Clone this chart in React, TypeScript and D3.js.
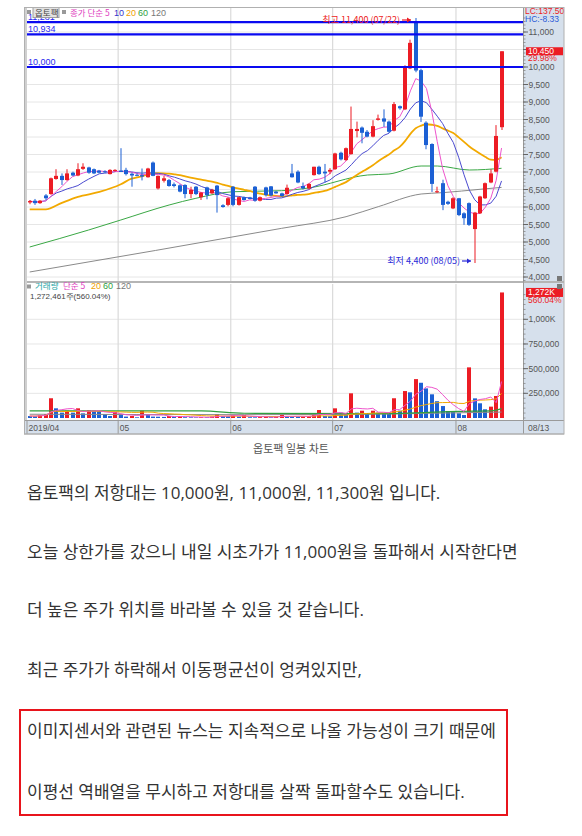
import React from 'react';
import * as d3 from 'd3';

// ---- data ----
const opens = [6130,6180,6110,6330,6370,6800,6890,6770,6980,6900,
7090,7130,7080,7040,7020,6940,7030,7040,7060,6950,
6920,6910,6850,7270,6530,6750,6770,6650,6620,6630,
6370,6580,6280,6560,6390,6610,6050,6060,6580,6060,
6280,6270,6580,6180,6560,6590,6440,6390,6370,6960,
7010,6600,6530,6910,7150,7010,7010,7080,7550,7340,
7510,8170,8270,8150,8010,8490,8530,8440,8180,8880,
8790,9960,11300,9910,8410,7800,6430,6680,6150,5960,
6250,5820,6110,5370,5820,6250,6700,7010,8280];
const highs = [6200,6230,6200,6370,6840,7080,6960,7080,7010,7250,
7250,7150,7100,7060,7050,7080,7080,7680,7120,6990,
6960,7100,7120,7300,6900,6890,6800,6700,6650,6650,
6580,6600,6430,6580,6520,6630,6080,6280,6600,6300,
6300,6290,6600,6300,6580,6600,6460,6410,6640,7230,
7050,6700,6680,7150,7180,7230,7110,7550,7580,7700,
8870,8440,8300,8200,8480,8640,8790,8470,9000,8900,
10050,10780,11400,9950,8450,7820,6580,6780,6180,6280,
6260,5850,6130,5860,6320,6700,7080,8340,10450];
const lows = [6080,6060,6090,6200,6350,6780,6630,6750,6880,6880,
7060,6950,6940,6960,6970,6930,7010,7000,6900,6580,
6880,6760,6840,6880,6500,6700,6580,6560,6420,6250,
6250,6340,6200,6220,6370,5840,5980,6020,6020,6040,
6180,6220,6150,6160,6300,6300,6380,6290,6350,6840,
6680,6500,6500,6900,6920,6700,6940,7060,7330,7320,
7500,7990,7820,7990,7990,8470,8290,8120,8160,8780,
8770,9940,9850,8430,7650,6430,6400,5910,6060,5940,
5740,5490,5460,4400,5800,6230,6680,6990,8200];
const closes = [6170,6110,6180,6250,6820,6890,6770,6960,6900,7080,
7150,6980,6960,6980,7000,7060,7060,7000,6940,6900,
6900,6870,7100,6890,6890,6820,6600,6600,6440,6370,
6490,6370,6410,6340,6490,6340,6000,6250,6060,6280,
6200,6230,6180,6280,6340,6330,6390,6310,6550,6850,
6700,6530,6660,7150,6940,6960,7060,7530,7360,7680,
8230,8230,8120,8010,8310,8530,8440,8150,8940,8820,
9990,10690,9900,8580,7770,6660,6450,6060,6090,6250,
5770,5680,5490,5840,6300,6680,6960,8030,10450];
// volume, thousand shares
const volumes = [20,18,30,40,200,98,54,74,54,98,
47,81,74,70,40,20,61,30,14,20,
7,74,40,14,13,11,20,12,20,8,
7,6,8,7,14,40,20,18,26,14,
30,8,7,9,13,8,13,30,20,14,
12,14,20,47,81,20,18,98,54,40,
250,54,74,40,74,54,50,45,200,74,
273,260,394,357,300,240,170,121,71,68,
48,30,513,199,149,88,115,223,1272];

const monthLabels = ['2019/04', '05', '06', '07', '08'];
const monthStartIdx = [0, 17, 38, 57, 80];
const lastDateLabel = '08/13';

const priceTicks = [4000,4500,5000,5500,6000,6500,7000,7500,8000,8500,9000,9500,10000,10500,11000];
const priceTickLabels = ['4,000','4,500','5,000','5,500','6,000','6,500','7,000','7,500','8,000','8,500','9,000','9,500','10,000','','11,000'];
const volTicks = [250, 500, 750, 1000];
const volTickLabels = ['250,000', '500,000', '750,000', '1,000K'];

const resistLevels = [11281, 10934, 10000];
const resistLabels = ['11,281', '10,934', '10,000'];

const ma20EarlyIdx = [0, 3, 6, 9, 13, 17];
const ma20EarlyVal = [5934, 5934, 6120, 6290, 6430, 6650];
const ma60Idx = [0, 11, 17, 26, 31, 38, 47, 52, 63, 67, 73, 76, 82, 88];
const ma60Val = [4857, 5343, 5629, 6057, 6249, 6437, 6466, 6543, 6914, 6943, 7171, 7171, 7057, 7106];
const ma120Idx = [0, 47, 59, 65, 73, 77, 84, 88];
const ma120Val = [4143, 5391, 5723, 6009, 6371, 6409, 6506, 6560];
const vma60Idx = [0, 32, 40, 66, 72, 80, 86, 88];
const vma60Val = [72, 72, 48, 44, 52, 68, 72, 95];
const vma120Idx = [0, 40, 60, 75, 88];
const vma120Val = [38, 34, 36, 48, 60];

const bodyLines = [
  '옵토팩의 저항대는 10,000원, 11,000원, 11,300원 입니다.',
  '오늘 상한가를 갔으니 내일 시초가가 11,000원을 돌파해서 시작한다면',
  '더 높은 주가 위치를 바라볼 수 있을 것 같습니다.',
  '최근 주가가 하락해서 이동평균선이 엉켜있지만,',
  '이미지센서와 관련된 뉴스는 지속적으로 나올 가능성이 크기 때문에',
  '이평선 역배열을 무시하고 저항대를 살짝 돌파할수도 있습니다.',
];

const RED = '#ec1c24';
const BLUE = '#1c60d4';
const AXISBG = '#d6e0ec';
const FONT = '"Noto Sans CJK KR", "Noto Sans", sans-serif';
const BODYFONT = '"Open Sans", "Noto Sans CJK KR", sans-serif';
const NUMFONT = '"Liberation Sans", Arial, sans-serif';

function sma(arr: number[], n: number): number[] {
  return arr.map((_, i) => d3.mean(arr.slice(Math.max(0, i - n + 1), i + 1)) as number);
}

export default function App() {
  const W = 582, H = 836;
  const plotL = 27, plotR = 523, frameR = 564;
  const x = d3.scaleLinear().domain([-0.5, 92]).range([plotL, plotR]);
  const yP = d3.scaleLinear().domain([4000, 10000]).range([277, 67]);
  const yV = d3.scaleLinear().domain([0, 1000]).range([418, 319.3]);
  const n = closes.length;
  const idx = d3.range(n);

  const ma5 = sma(closes, 5);
  const ma10 = sma(closes, 10);
  const ma20full = sma(closes, 20);
  const ma20Pts: [number, number][] = [
    ...ma20EarlyIdx.map((i, k) => [i, ma20EarlyVal[k]] as [number, number]),
    ...idx.filter((i) => i >= 19).map((i) => [i, ma20full[i]] as [number, number]),
  ];
  const vma5 = sma(volumes, 5);
  const vma20 = sma(volumes, 20);

  const lineP = d3.line<[number, number]>().x((d) => x(d[0])).y((d) => yP(d[1]));
  const lineSmooth = d3.line<[number, number]>().x((d) => x(d[0])).y((d) => yP(d[1])).curve(d3.curveMonotoneX);
  const lineV = d3.line<[number, number]>().x((d) => x(d[0])).y((d) => yV(d[1]));
  const lineVSmooth = d3.line<[number, number]>().x((d) => x(d[0])).y((d) => yV(d[1])).curve(d3.curveMonotoneX);

  const pairs = (a: number[]) => a.map((v, i) => [i, v] as [number, number]);
  const zip = (a: number[], b: number[]) => a.map((v, i) => [v, b[i]] as [number, number]);

  const minorPrice = d3.range(3900, 11500, 100);
  const minorVol = d3.range(0, 1300, 50);

  const lastClose = closes[n - 1];
  const lastVol = volumes[n - 1];

  return (
    <div style={{ position: 'absolute', left: 0, top: 0 }}>
      <svg width={W} height={H} style={{ display: 'block', background: '#fff' }}>
        {/* chart frame backgrounds */}
        <rect x={24} y={7} width={frameR - 24} height={427} fill="#fff" />
        <rect x={plotR} y={7} width={frameR - plotR} height={413} fill={AXISBG} />
        <rect x={24} y={420} width={frameR - 24} height={14} fill={AXISBG} />

        {/* gridlines */}
        {priceTicks.map((t) => (
          <line key={'pg' + t} x1={plotL} x2={plotR} y1={yP(t)} y2={yP(t)} stroke="#e6e6e6" strokeWidth={1} />
        ))}
        {volTicks.map((t) => (
          <line key={'vg' + t} x1={plotL} x2={plotR} y1={yV(t)} y2={yV(t)} stroke="#e6e6e6" strokeWidth={1} />
        ))}
        {monthStartIdx.slice(1).map((m) => (
          <g key={'mg' + m}>
            <line x1={x(m - 0.5)} x2={x(m - 0.5)} y1={8} y2={281} stroke="#dadada" strokeWidth={1.2} />
            <line x1={x(m - 0.5)} x2={x(m - 0.5)} y1={284} y2={420} stroke="#dadada" strokeWidth={1.2} />
          </g>
        ))}

        {/* moving averages (price) */}
        <path d={lineSmooth(zip(ma120Idx, ma120Val)) || ''} fill="none" stroke="#8a8a8a" strokeWidth={1} />
        <path d={lineSmooth(zip(ma60Idx, ma60Val)) || ''} fill="none" stroke="#3aa845" strokeWidth={1} />
        <path d={lineSmooth(ma20Pts) || ''} fill="none" stroke="#f2a900" strokeWidth={1.8} />
        <path d={lineP(pairs(ma10)) || ''} fill="none" stroke="#4a4ad0" strokeWidth={1} />
        <path d={lineP(pairs(ma5)) || ''} fill="none" stroke="#ee55cc" strokeWidth={1} />

        {/* candles */}
        {idx.map((i) => {
          const up = closes[i] >= opens[i];
          const c = up ? RED : BLUE;
          const L = Math.round(x(i)) - 2;
          const top = yP(Math.max(opens[i], closes[i]));
          const bot = yP(Math.min(opens[i], closes[i]));
          return (
            <g key={'c' + i}>
              <rect x={L + 1.5} width={1} y={yP(highs[i])} height={yP(lows[i]) - yP(highs[i])} fill={c} />
              <rect x={L} width={4} y={top} height={Math.max(1, bot - top)} fill={c} />
            </g>
          );
        })}

        {/* resistance lines */}
        {resistLevels.map((r, k) => (
          <g key={'r' + k}>
            <line x1={plotL} x2={plotR} y1={yP(r)} y2={yP(r)} stroke="#0a0af0" strokeWidth={2.2} />
            <text x={28} y={yP(r) - 2.5} fontSize={9} fontFamily={NUMFONT} fill="#2a2af0">{resistLabels[k]}</text>
          </g>
        ))}

        {/* high / low annotations */}
        <text x={400} y={23} textAnchor="end" fontSize={9} fontFamily={FONT} fill={RED}>최고 11,400 (07/22)</text>
        <line x1={402} x2={411} y1={20} y2={20} stroke={RED} strokeWidth={1.2} />
        <path d="M411,20 L407,17.5 L407,22.5 Z" fill={RED} />
        <text x={460} y={264} textAnchor="end" fontSize={9} fontFamily={FONT} fill="#2a2ad8">최저 4,400 (08/05)</text>
        <line x1={462} x2={471} y1={261} y2={261} stroke="#2a2ad8" strokeWidth={1.2} />
        <path d="M471,261 L467,258.5 L467,263.5 Z" fill="#2a2ad8" />

        {/* price legend */}
        <rect x={27} y={10} width={4} height={4} fill="#999" />
        <rect x={33} y={7.5} width={26} height={10} fill="#e2e2e2" stroke="#a0a0a0" />
        <text x={35} y={16} fontSize={8.5} fontFamily={FONT} fill="#444">옵토팩</text>
        <rect x={62} y={10} width={4} height={4} fill="#999" />
        <text x={70} y={16} fontSize={8.5} fontFamily={FONT} fill="#e040c0">종가 단순 5</text>
        <text x={114} y={16} fontSize={9} fontFamily={NUMFONT} fill="#3333cc">10</text>
        <text x={126} y={16} fontSize={9} fontFamily={NUMFONT} fill="#f0a000">20</text>
        <text x={138} y={16} fontSize={9} fontFamily={NUMFONT} fill="#2f9f3f">60</text>
        <text x={151} y={16} fontSize={9} fontFamily={NUMFONT} fill="#777">120</text>

        {/* panel separator */}
        <rect x={24} y={281} width={frameR - 24} height={2} fill="#b5b5b5" />

        {/* volume bars */}
        {idx.map((i) => {
          const up = i > 0 && volumes[i] > volumes[i - 1];
          const L = Math.round(x(i)) - 2;
          return (
            <rect key={'v' + i} x={L} width={4} y={yV(volumes[i])} height={yV(0) - yV(volumes[i])} fill={up ? RED : BLUE} />
          );
        })}
        {/* volume moving averages */}
        <path d={lineVSmooth(zip(vma120Idx, vma120Val)) || ''} fill="none" stroke="#8a8a8a" strokeWidth={1} />
        <path d={lineVSmooth(zip(vma60Idx, vma60Val)) || ''} fill="none" stroke="#2f9f3f" strokeWidth={1.2} />
        <path d={lineV(pairs(vma20)) || ''} fill="none" stroke="#f2a900" strokeWidth={1} />
        <path d={lineV(pairs(vma5)) || ''} fill="none" stroke="#ee55cc" strokeWidth={1} />

        {/* volume legend */}
        <rect x={27} y={284.5} width={4} height={4} fill="#999" />
        <text x={35} y={289} fontSize={8.5} fontFamily={FONT} fill="#2aa6a6">거래량</text>
        <text x={63} y={289} fontSize={8.5} fontFamily={FONT} fill="#e040c0">단순 5</text>
        <text x={91} y={289} fontSize={9} fontFamily={NUMFONT} fill="#f0a000">20</text>
        <text x={103} y={289} fontSize={9} fontFamily={NUMFONT} fill="#2f9f3f">60</text>
        <text x={116} y={289} fontSize={9} fontFamily={NUMFONT} fill="#777">120</text>
        <text x={30} y={299} fontSize={8} fontFamily={NUMFONT} fill="#444">1,272,461주(560.04%)</text>

        {/* right axis: price */}
        <line x1={plotR + 0.5} x2={plotR + 0.5} y1={7} y2={434} stroke="#9a9a9a" />
        {minorPrice.map((t) => (
          <line key={'mp' + t} x1={plotR} x2={plotR + 2.5} y1={yP(t)} y2={yP(t)} stroke="#888" strokeWidth={0.8} />
        ))}
        {priceTicks.map((t, k) => (
          <g key={'pt' + t}>
            <line x1={plotR} x2={plotR + 5} y1={yP(t)} y2={yP(t)} stroke="#666" />
            <text x={plotR + 5.5} y={yP(t) + 3} fontSize={8.5} fontFamily={NUMFONT} fill="#555">{priceTickLabels[k]}</text>
          </g>
        ))}
        <text x={plotR + 2} y={14} fontSize={8.5} fontFamily={NUMFONT} fill={RED}>LC:137.50</text>
        <text x={plotR + 2} y={21.5} fontSize={8.5} fontFamily={NUMFONT} fill="#2a5ad8">HC:-8.33</text>
        <rect x={plotR + 3} y={yP(lastClose) - 4} width={37} height={8} fill={RED} />
        <text x={plotR + 5} y={yP(lastClose) + 3} fontSize={8.5} fontFamily={NUMFONT} fill="#fff">{d3.format(',')(lastClose)}</text>
        <text x={plotR + 5} y={yP(lastClose) + 10} fontSize={8.5} fontFamily={NUMFONT} fill={RED}>29.98%</text>

        {/* right axis: volume */}
        {minorVol.map((t) => (
          <line key={'mv' + t} x1={plotR} x2={plotR + 2.5} y1={yV(t)} y2={yV(t)} stroke="#888" strokeWidth={0.8} />
        ))}
        {volTicks.map((t, k) => (
          <g key={'vt' + t}>
            <line x1={plotR} x2={plotR + 5} y1={yV(t)} y2={yV(t)} stroke="#666" />
            <text x={plotR + 5.5} y={yV(t) + 3} fontSize={8.5} fontFamily={NUMFONT} fill="#555">{volTickLabels[k]}</text>
          </g>
        ))}
        <rect x={plotR + 3} y={yV(lastVol) - 4.5} width={37} height={9} fill={RED} />
        <text x={plotR + 5} y={yV(lastVol) + 3} fontSize={8.5} fontFamily={NUMFONT} fill="#fff">1,272K</text>
        <text x={plotR + 5} y={yV(lastVol) + 10.5} fontSize={8.5} fontFamily={NUMFONT} fill={RED}>560.04%</text>
        <rect x={557} y={284} width={5} height={5} fill="#777" />
        <rect x={557} y={276} width={5} height={5} fill="#777" />

        {/* bottom date strip */}
        <line x1={24} x2={frameR} y1={420.5} y2={420.5} stroke="#9a9a9a" />
        <line x1={24} x2={frameR} y1={434} y2={434} stroke="#aaa" />
        {monthStartIdx.map((m, k) => (
          <g key={'ml' + m}>
            <line x1={x(m - 0.5)} x2={x(m - 0.5)} y1={420} y2={434} stroke="#9a9a9a" />
            <text x={x(m - 0.5) + 1.5} y={431} fontSize={8.5} fontFamily={NUMFONT} fill="#555">{monthLabels[k]}</text>
          </g>
        ))}
        <text x={plotR + 5} y={431} fontSize={8.5} fontFamily={NUMFONT} fill="#555">{lastDateLabel}</text>

        {/* frame borders */}
        <rect x={24.5} y={7.5} width={frameR - 24.5} height={426.5} fill="none" stroke="#b0b0b0" />
        <rect x={25} y={8} width={2} height={412} fill="#d0d0d0" />

        {/* caption */}
        <text x={291} y={453} textAnchor="middle" fontSize={11} fontFamily={FONT} fill="#555">옵토팩 일봉 차트</text>

        {/* body text */}
        {bodyLines.map((s, k) => (
          <text key={'b' + k} x={27} y={[499, 558, 616, 676, 737, 798][k]} fontSize={17} fontFamily={BODYFONT} fill="#333">{s}</text>
        ))}
        <rect x={20} y={710} width={487} height={105} fill="none" stroke="#e8141c" strokeWidth={2} />
      </svg>
    </div>
  );
}
